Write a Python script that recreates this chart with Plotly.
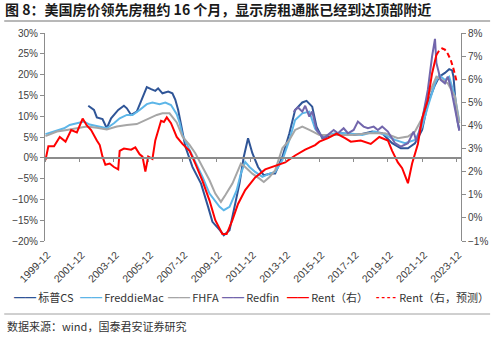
import plotly.graph_objects as go

# ---- Home price indices, YoY % (left axis), plotted 16 months forward ----
cs_dates = ["2002-06", "2002-10", "2002-12", "2003-04", "2003-07", "2003-10", "2004-03", "2004-07",
            "2004-09", "2004-12", "2005-04", "2005-07", "2005-11", "2006-02", "2006-05", "2006-07",
            "2006-10", "2007-02", "2007-05", "2007-07", "2007-09", "2007-11", "2008-02", "2008-07",
            "2009-01", "2009-06", "2009-09", "2010-02", "2010-05", "2010-09", "2010-12", "2011-04",
            "2011-07", "2011-10", "2012-01", "2012-05", "2012-09", "2013-02", "2013-05", "2013-10",
            "2014-03", "2014-07", "2014-12", "2015-03", "2015-07", "2015-10", "2016-02", "2016-09",
            "2017-04", "2017-11", "2018-06", "2019-01", "2019-08", "2020-03", "2020-09", "2021-02",
            "2021-07", "2021-12", "2022-04", "2022-09", "2022-12", "2023-04", "2023-07", "2023-09",
            "2023-10", "2023-11", "2023-12", "2024-01", "2024-02"]
cs_vals = [12.5, 11.5, 9.7, 9.3, 7.1, 9.5, 11.5, 12.5,
           11.9, 10.3, 11.1, 13.5, 17.0, 16.5, 16.1, 16.7,
           15.5, 15.9, 15.5, 14.0, 11.5, 8.0, 2.7, -2.2,
           -6.2, -11.8, -15.4, -17.3, -18.6, -17.4, -12.6, -6.2,
           0.2, 4.7, 1.1, -2.2, -4.2, -3.8, -3.8, 0.2,
           5.9, 11.5, 13.3, 13.7, 12.3, 7.5, 4.7, 5.5,
           5.9, 5.5, 5.7, 6.3, 5.9, 3.5, 2.3, 2.3,
           3.5, 6.7, 13.1, 17.5, 19.5, 20.4, 21.3, 21.0,
           19.5, 15.0, 11.0, 8.5, 6.8]

freddie_dates = ["1999-12", "2000-06", "2001-01", "2001-05", "2001-10", "2002-03", "2002-07", "2003-01",
                 "2003-07", "2003-12", "2004-04", "2004-09", "2005-01", "2005-06", "2005-11", "2006-03",
                 "2006-08", "2006-12", "2007-04", "2007-08", "2007-10", "2007-12", "2008-05", "2008-09",
                 "2009-02", "2009-07", "2010-02", "2010-05", "2010-09", "2011-02", "2011-05", "2011-08",
                 "2011-11", "2012-03", "2012-08", "2013-01", "2013-05", "2013-10", "2014-03", "2014-07",
                 "2014-12", "2015-05", "2015-09", "2016-02", "2016-11", "2017-08", "2018-06", "2019-03",
                 "2019-10", "2020-05", "2020-12", "2021-07", "2021-12", "2022-04", "2022-09", "2022-12",
                 "2023-04", "2023-07", "2023-11", "2024-02"]
freddie_vals = [5.7, 6.4, 7.1, 7.9, 8.3, 8.7, 8.0, 7.5,
                7.1, 8.3, 9.5, 10.3, 10.3, 11.5, 12.9, 13.3,
                12.9, 13.3, 12.7, 10.5, 8.5, 5.5, 1.9, -1.4,
                -4.6, -8.6, -11.8, -12.6, -11.8, -7.8, -3.8, -1.0,
                -2.2, -3.4, -4.6, -3.8, -3.4, -0.6, 4.3, 9.1,
                10.7, 11.1, 7.0, 5.1, 5.9, 5.9, 5.5, 6.3,
                5.5, 4.3, 3.5, 4.3, 7.5, 12.3, 17.9, 19.9,
                18.7, 19.5, 14.7, 8.8]

fhfa_dates = ["1999-12", "2000-08", "2001-03", "2001-10", "2002-05", "2002-12", "2003-07", "2004-02",
              "2004-09", "2005-04", "2005-11", "2006-06", "2006-10", "2007-03", "2007-08", "2007-12",
              "2008-05", "2008-09", "2009-02", "2009-07", "2009-11", "2010-03", "2010-06", "2010-11",
              "2011-03", "2011-05", "2011-08", "2012-01", "2012-06", "2012-09", "2013-01", "2013-05",
              "2013-10", "2014-03", "2014-07", "2014-12", "2015-05", "2015-12", "2016-11", "2017-11",
              "2018-10", "2019-10", "2020-07", "2021-02", "2021-07", "2021-12", "2022-04", "2022-10",
              "2023-02", "2023-06", "2023-11", "2024-02"]
fhfa_vals = [5.2, 6.3, 6.7, 7.1, 7.5, 7.2, 6.8, 7.5,
             7.9, 8.1, 9.3, 10.3, 10.7, 10.7, 8.5, 5.1,
             3.1, 1.1, -2.2, -5.4, -8.6, -10.6, -9.0, -6.2,
             -3.0, -1.4, -2.2, -3.8, -5.0, -5.8, -4.6, -3.0,
             2.3, 4.3, 6.7, 7.5, 6.7, 5.5, 5.5, 5.5,
             5.9, 5.9, 4.7, 5.1, 6.3, 9.5, 14.7, 19.5,
             18.7, 17.9, 14.7, 8.3]

redfin_dates = ["2014-06", "2014-07", "2014-09", "2014-12", "2015-02", "2015-05", "2015-07", "2015-10",
                "2016-03", "2016-10", "2017-01", "2017-05", "2017-08", "2017-12", "2018-03", "2018-07",
                "2018-10", "2019-02", "2019-05", "2019-08", "2019-12", "2020-05", "2020-09", "2021-02",
                "2021-06", "2021-08", "2021-12", "2022-04", "2022-07", "2022-09", "2022-10", "2023-01",
                "2023-04", "2023-06", "2023-08", "2023-12", "2024-02"]
redfin_vals = [11.0, 11.5, 12.1, 11.1, 12.5, 9.9, 11.1, 6.7,
               4.7, 6.7, 5.9, 7.1, 5.9, 6.7, 8.7, 7.5,
               7.1, 7.5, 6.7, 7.5, 6.3, 3.5, 2.7, 3.5,
               6.3, 3.9, 9.1, 16.3, 24.4, 28.6, 22.8, 18.7,
               17.9, 19.5, 17.1, 10.3, 6.5]

# ---- Rent YoY % (right axis) ----
rent_dates = ["1999-12", "2000-02", "2000-06", "2000-10", "2001-02", "2001-06", "2001-10", "2002-02",
              "2002-05", "2002-08", "2002-12", "2003-02", "2003-04", "2003-06", "2003-09", "2003-12",
              "2004-03", "2004-04", "2004-07", "2004-12", "2005-03", "2005-06", "2005-08", "2005-10",
              "2005-12", "2006-03", "2006-05", "2006-09", "2006-11", "2007-01", "2007-04", "2007-06",
              "2007-08", "2007-12", "2008-05", "2008-09", "2009-02", "2009-07", "2009-11", "2010-04",
              "2010-07", "2010-11", "2011-03", "2011-08", "2012-03", "2012-10", "2013-05", "2013-12",
              "2014-07", "2015-02", "2015-09", "2015-12", "2016-06", "2016-12", "2017-06", "2017-10",
              "2018-05", "2018-12", "2019-06", "2019-12", "2020-03", "2020-07", "2020-10", "2021-02",
              "2021-05", "2021-09", "2021-12", "2022-04", "2022-07", "2022-10"]
rent_vals = [2.5, 3.1, 3.1, 3.5, 3.3, 3.8, 3.7, 4.3,
             4.0, 3.8, 3.35, 3.15, 2.65, 2.3, 2.35, 2.2,
             2.1, 2.9, 3.0, 2.95, 3.05, 2.75, 2.65, 2.0,
             2.65, 2.55, 3.35, 4.2, 4.15, 4.35, 4.1, 3.8,
             3.5, 3.2, 2.9, 2.35, 1.6, 0.75, -0.1, -0.7,
             -0.7, -0.1, 0.6, 1.2, 1.75, 2.1, 2.25, 2.4,
             2.7, 2.95, 3.15, 3.3, 3.45, 3.65, 3.45, 3.3,
             3.35, 3.2, 3.5, 3.35, 2.9, 2.4, 2.15, 1.5,
             2.35, 3.2, 4.3, 5.1, 6.25, 7.05]

rent_fc_dates = ["2022-10", "2022-12", "2023-02", "2023-04", "2023-06", "2023-08", "2023-10", "2023-12"]
rent_fc_vals = [7.05, 7.25, 7.33, 7.28, 7.1, 6.85, 6.45, 5.95]

# ---- Axis ticks ----
left_ticks = list(range(-20, 31, 5))
left_tick_text = [f"{v}%".replace("-", "\u2212") for v in left_ticks]
right_ticks = list(range(-1, 9))
right_tick_text = [f"{v}%".replace("-", "\u2212") for v in right_ticks]
x_tick_labels = [f"{y}-12" for y in range(1999, 2024, 2)]
x_tick_vals = [f"{y}-12-01" for y in range(1999, 2024, 2)]
x_range = ["1999-11-21", "2024-03-09"]

C_CS = "#2F5597"
C_FM = "#5DB6E8"
C_FHFA = "#A6A6A6"
C_RF = "#7266AC"
C_RENT = "#FF0000"
AXIS_GREY = "#8C8C8C"
TICK_FONT = dict(family="Liberation Sans, Arial", size=10, color="#404040")
CJK = "Noto Sans CJK SC"

fig = go.Figure()
fig.add_trace(go.Scatter(x=cs_dates, y=cs_vals, name="标普CS", mode="lines",
                         line=dict(color=C_CS, width=2)))
fig.add_trace(go.Scatter(x=freddie_dates, y=freddie_vals, name="FreddieMac", mode="lines",
                         line=dict(color=C_FM, width=2)))
fig.add_trace(go.Scatter(x=fhfa_dates, y=fhfa_vals, name="FHFA", mode="lines",
                         line=dict(color=C_FHFA, width=2)))
fig.add_trace(go.Scatter(x=redfin_dates, y=redfin_vals, name="Redfin", mode="lines",
                         line=dict(color=C_RF, width=2)))
fig.add_trace(go.Scatter(x=rent_dates, y=rent_vals, name="Rent（右）", mode="lines",
                         line=dict(color=C_RENT, width=2), yaxis="y2"))
fig.add_trace(go.Scatter(x=rent_fc_dates, y=rent_fc_vals, name="Rent（右，预测）", mode="lines",
                         line=dict(color=C_RENT, width=2, dash="5px,3px"), yaxis="y2"))
# carrier for the zero-line axis
fig.add_trace(go.Scatter(x=[], y=[], xaxis="x2", showlegend=False, hoverinfo="skip"))

fig.update_layout(
    width=500, height=337,
    margin=dict(l=45, r=37, t=33, b=96),
    paper_bgcolor="white", plot_bgcolor="white",
    showlegend=False,
    title=dict(text="<b>图 8：美国房价领先房租约 16 个月，显示房租通胀已经到达顶部附近</b>",
               x=0.01, xanchor="left", y=0.97, yanchor="middle",
               font=dict(family=CJK, size=14, color="#1a1a1a")),
    xaxis=dict(type="date", range=x_range, tickvals=x_tick_vals, ticktext=x_tick_labels,
               tickangle=-45, tickfont=dict(TICK_FONT, size=10.5), showgrid=False, zeroline=False,
               showline=False, ticks="", ticklabelstandoff=5, ticklabelshift=2),
    xaxis2=dict(type="date", range=x_range, tickvals=x_tick_vals, overlaying="x",
                anchor="free", position=0.4, showticklabels=False, showgrid=False,
                zeroline=False, showline=True, linecolor=AXIS_GREY, linewidth=1.5,
                ticks="outside", ticklen=3, tickcolor=AXIS_GREY, tickwidth=1),
    yaxis=dict(range=[-20, 30], tickvals=left_ticks, ticktext=left_tick_text, tickfont=TICK_FONT,
               showgrid=False, zeroline=False, showline=True, linecolor=AXIS_GREY,
               ticks="outside", ticklen=4, tickcolor=AXIS_GREY),
    yaxis2=dict(range=[-1, 8], tickvals=right_ticks, ticktext=right_tick_text, tickfont=TICK_FONT,
                overlaying="y", side="right", showgrid=False, zeroline=False, showline=True,
                linecolor=AXIS_GREY, ticks="outside", ticklen=4, tickcolor=AXIS_GREY),
)

# rules under the title and above the source line
for yv, w in [(1.058, 1.5), (-0.351, 1)]:
    fig.add_shape(type="line", xref="paper", yref="paper", x0=-0.098, x1=1.07, y0=yv, y1=yv,
                  line=dict(color="#A0A0A0", width=w))

# legend row
legend_items = [
    (-0.079, C_CS, "━━", "标普CS"),
    (0.079, C_FM, "━━", "FreddieMac"),
    (0.292, C_FHFA, "━━", "FHFA"),
    (0.421, C_RF, "━━", "Redfin"),
    (0.577, C_RENT, "━━", "Rent（右）"),
    (0.788, C_RENT, "╍╍", "Rent（右，预测）"),
]
for xp, col, glyph, label in legend_items:
    fig.add_annotation(xref="paper", yref="paper", x=xp, y=-0.269, xanchor="left", yanchor="middle",
                       showarrow=False,
                       text=f'<span style="color:{col}">{glyph}</span>\u2009{label}',
                       font=dict(family=CJK, size=11, color="#333333"))

fig.add_annotation(xref="paper", yref="paper", x=-0.096, y=-0.409, xanchor="left", yanchor="middle",
                   showarrow=False, text="数据来源：wind，国泰君安证券研究",
                   font=dict(family=CJK, size=11, color="#333333"))

fig.write_html("out.html")
